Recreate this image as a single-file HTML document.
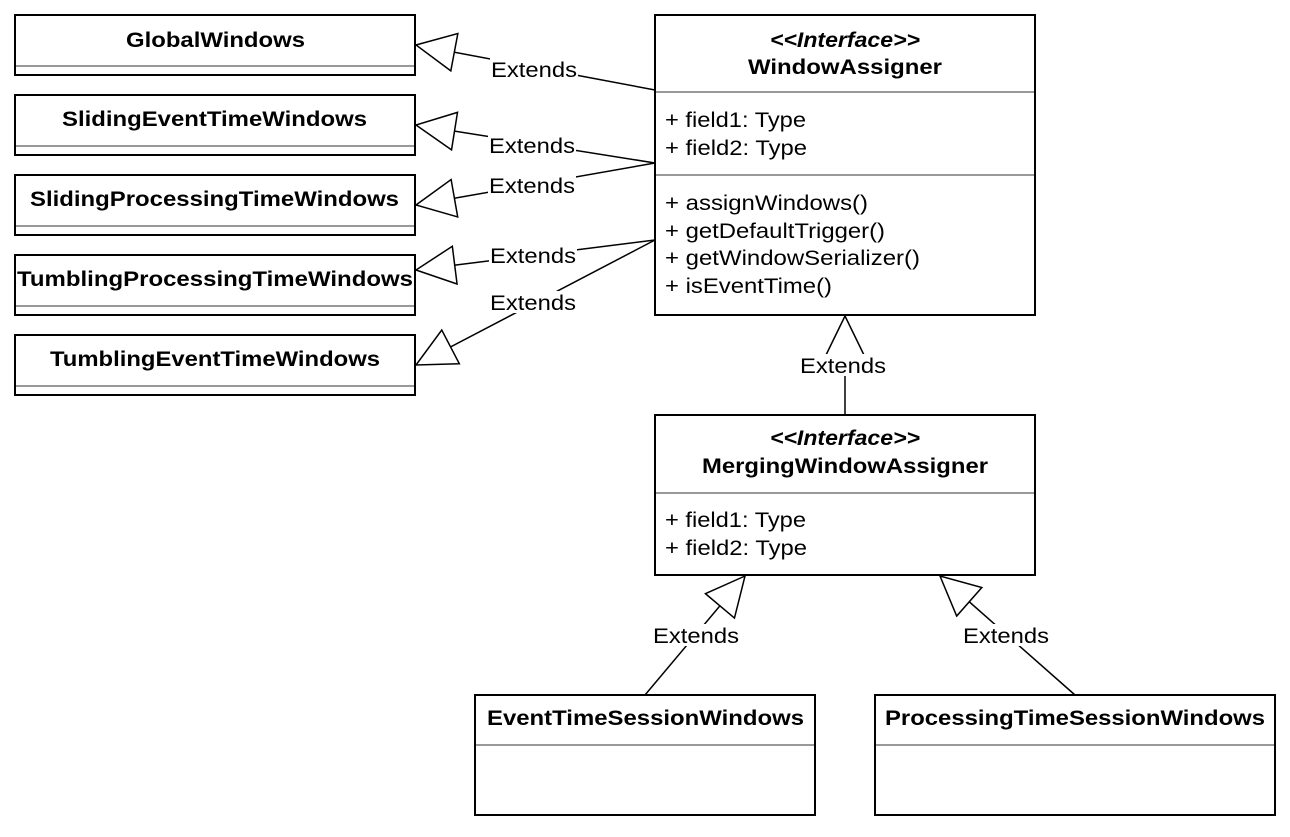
<!DOCTYPE html>
<html><head><meta charset="utf-8"><style>
html,body{margin:0;padding:0;background:#fff}
svg text{font-family:"Liberation Sans",Arial,sans-serif;font-size:21px;fill:#000}
.b{font-weight:bold}
.i{font-style:italic}
</style></head><body>
<svg width="1290" height="832" viewBox="0 0 1290 832" xmlns="http://www.w3.org/2000/svg">
<defs>
<marker id="tri" markerUnits="userSpaceOnUse" markerWidth="44" markerHeight="44" refX="40" refY="20" orient="auto">
<path d="M1,1 L40,20 L1,39 Z" fill="#fff" stroke="#000" stroke-width="1.5"/>
</marker>
</defs>
<g fill="#fff" stroke="#000" stroke-width="2">
<rect x="15" y="15" width="400" height="60"/>
<rect x="15" y="95" width="400" height="60"/>
<rect x="15" y="175" width="400" height="60"/>
<rect x="15" y="255" width="400" height="60"/>
<rect x="15" y="335" width="400" height="60"/>
<rect x="655" y="15" width="380" height="300"/>
<rect x="655" y="415" width="380" height="160"/>
<rect x="475" y="695" width="340" height="120"/>
<rect x="875" y="695" width="400" height="120"/>
</g>
<g stroke="#999" stroke-width="2">
<line x1="16" y1="66" x2="414" y2="66"/>
<line x1="16" y1="146" x2="414" y2="146"/>
<line x1="16" y1="226" x2="414" y2="226"/>
<line x1="16" y1="306" x2="414" y2="306"/>
<line x1="16" y1="386" x2="414" y2="386"/>
<line x1="656" y1="92" x2="1034" y2="92"/>
<line x1="656" y1="175" x2="1034" y2="175"/>
<line x1="656" y1="493" x2="1034" y2="493"/>
<line x1="476" y1="745" x2="814" y2="745"/>
<line x1="876" y1="745" x2="1274" y2="745"/>
</g>
<g class="b" lengthAdjust="spacingAndGlyphs">
<text x="126" y="47" class="b" textLength="179" lengthAdjust="spacingAndGlyphs">GlobalWindows</text>
<text x="62" y="126" class="b" textLength="305" lengthAdjust="spacingAndGlyphs">SlidingEventTimeWindows</text>
<text x="30" y="206" class="b" textLength="369" lengthAdjust="spacingAndGlyphs">SlidingProcessingTimeWindows</text>
<text x="17" y="286" class="b" textLength="396" lengthAdjust="spacingAndGlyphs">TumblingProcessingTimeWindows</text>
<text x="50" y="366" class="b" textLength="330" lengthAdjust="spacingAndGlyphs">TumblingEventTimeWindows</text>
<text x="770" y="47" class="i" textLength="150" lengthAdjust="spacingAndGlyphs">&lt;&lt;Interface&gt;&gt;</text>
<text x="748" y="74" class="b" textLength="194" lengthAdjust="spacingAndGlyphs">WindowAssigner</text>
<text x="770" y="445" class="i" textLength="150" lengthAdjust="spacingAndGlyphs">&lt;&lt;Interface&gt;&gt;</text>
<text x="702" y="473" class="b" textLength="286" lengthAdjust="spacingAndGlyphs">MergingWindowAssigner</text>
<text x="487" y="725" class="b" textLength="317" lengthAdjust="spacingAndGlyphs">EventTimeSessionWindows</text>
<text x="885" y="725" class="b" textLength="380" lengthAdjust="spacingAndGlyphs">ProcessingTimeSessionWindows</text>
</g>
<g>
<text x="665" y="127" textLength="141" lengthAdjust="spacingAndGlyphs">+ field1: Type</text>
<text x="665" y="155" textLength="142" lengthAdjust="spacingAndGlyphs">+ field2: Type</text>
<text x="665" y="210" textLength="203" lengthAdjust="spacingAndGlyphs">+ assignWindows()</text>
<text x="665" y="238" textLength="220" lengthAdjust="spacingAndGlyphs">+ getDefaultTrigger()</text>
<text x="665" y="265" textLength="255" lengthAdjust="spacingAndGlyphs">+ getWindowSerializer()</text>
<text x="665" y="293" textLength="167" lengthAdjust="spacingAndGlyphs">+ isEventTime()</text>
<text x="665" y="527" textLength="141" lengthAdjust="spacingAndGlyphs">+ field1: Type</text>
<text x="665" y="555" textLength="142" lengthAdjust="spacingAndGlyphs">+ field2: Type</text>
</g>
<g stroke="#000" stroke-width="1.5" fill="none" marker-end="url(#tri)">
<line x1="655" y1="90" x2="416" y2="45"/>
<line x1="655" y1="163" x2="416" y2="125"/>
<line x1="655" y1="163" x2="416" y2="205"/>
<line x1="655" y1="240" x2="416" y2="270"/>
<line x1="655" y1="240" x2="416" y2="365"/>
<line x1="845" y1="415" x2="845" y2="316"/>
<line x1="645" y1="695" x2="745" y2="576"/>
<line x1="1075" y1="695" x2="940" y2="576"/>
</g>
<g>
<rect x="490" y="58" width="88" height="22" fill="#fff"/>
<text x="491" y="77" textLength="86" lengthAdjust="spacingAndGlyphs">Extends</text>
<rect x="488" y="134" width="88" height="22" fill="#fff"/>
<text x="489" y="153" textLength="86" lengthAdjust="spacingAndGlyphs">Extends</text>
<rect x="488" y="174" width="88" height="22" fill="#fff"/>
<text x="489" y="193" textLength="86" lengthAdjust="spacingAndGlyphs">Extends</text>
<rect x="489" y="244" width="88" height="22" fill="#fff"/>
<text x="490" y="263" textLength="86" lengthAdjust="spacingAndGlyphs">Extends</text>
<rect x="489" y="291" width="88" height="22" fill="#fff"/>
<text x="490" y="310" textLength="86" lengthAdjust="spacingAndGlyphs">Extends</text>
<rect x="799" y="354" width="88" height="22" fill="#fff"/>
<text x="800" y="373" textLength="86" lengthAdjust="spacingAndGlyphs">Extends</text>
<rect x="652" y="624" width="88" height="22" fill="#fff"/>
<text x="653" y="643" textLength="86" lengthAdjust="spacingAndGlyphs">Extends</text>
<rect x="962" y="624" width="88" height="22" fill="#fff"/>
<text x="963" y="643" textLength="86" lengthAdjust="spacingAndGlyphs">Extends</text>
</g>
</svg>
</body></html>
